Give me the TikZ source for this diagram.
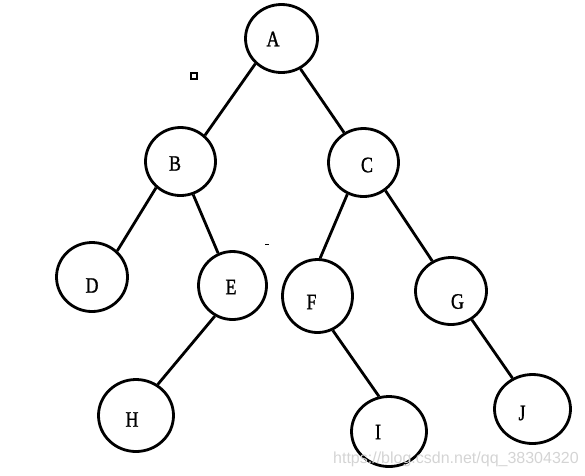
\documentclass[tikz,border=0pt]{standalone}
\usepackage{fontspec}
\setmainfont{Liberation Serif}
\newfontfamily\lblfont[FakeStretch=0.82,FakeBold=1.2]{Liberation Serif}
\newfontfamily\wmfont{Liberation Sans}
\usetikzlibrary{shapes.geometric}
\begin{document}
\begin{tikzpicture}[x=1pt,y=-1pt,
  tnode/.style={ellipse,draw,line width=2.8pt,inner sep=0pt},
  lbl/.style={inner sep=0pt,font=\lblfont\fontsize{22}{22}\selectfont},
  edge/.style={line width=2.8pt,line cap=butt},
  wm/.style={inner sep=0pt,anchor=base west,text=black!17,font=\wmfont\fontsize{16}{16}\selectfont}]
\useasboundingbox (0,0) rectangle (585,475);
% nodes (circles)
\node[tnode,minimum width=72pt,minimum height=68pt] (nA) at (281.5,38.5) {};
\node[tnode,minimum width=70pt,minimum height=68pt] (nB) at (180.5,161.5) {};
\node[tnode,minimum width=70pt,minimum height=68pt] (nC) at (363.5,162.5) {};
\node[tnode,minimum width=71pt,minimum height=69pt] (nD) at (92,277) {};
\node[tnode,minimum width=68pt,minimum height=68pt] (nE) at (232.5,285.5) {};
\node[tnode,minimum width=70pt,minimum height=73pt] (nF) at (317.5,296) {};
\node[tnode,minimum width=71pt,minimum height=67pt] (nG) at (451,291) {};
\node[tnode,minimum width=75pt,minimum height=72pt] (nH) at (136,415.5) {};
\node[tnode,minimum width=75pt,minimum height=70pt] (nI) at (389,431.5) {};
\node[tnode,minimum width=76pt,minimum height=69pt] (nJ) at (532.5,409) {};
% labels
\node[lbl] (lA) at (273,39) {A};
\node[lbl] (lB) at (175,163.5) {B};
\node[lbl] (lC) at (367,165) {C};
\node[lbl] (lD) at (92,285.5) {D};
\node[lbl] (lE) at (231,287) {E};
\node[lbl] (lF) at (311.5,302) {F};
\node[lbl] (lG) at (457.5,301.5) {G};
\node[lbl] (lH) at (132,419.5) {H};
\node[lbl] (lI) at (378,432) {I};
\node[lbl] (lJ) at (522,413) {J};
% edges
\draw[edge] (nA.224) -- (nB.47);
\draw[edge] (nA.302) -- (nC.123);
\draw[edge] (nB.227) -- (nD.46);
\draw[edge] (nB.291) -- (nE.114);
\draw[edge] (nC.243) -- (nF.86);
\draw[edge] (nC.308) -- (nG.122);
\draw[edge] (nE.240) -- (nH.55);
\draw[edge] (nF.294) -- (nI.106);
\draw[edge] (nG.306) -- (nJ.123);
% stray marks
\draw[line width=1.2pt] (191,73) rectangle (197,79);
\draw[line width=1.2pt] (265,244.5) -- (269,244.5);
% watermark
\node[wm] (wm) at (333,463) {https://blog.csdn.net/qq\_38304320};
\end{tikzpicture}
\end{document}
